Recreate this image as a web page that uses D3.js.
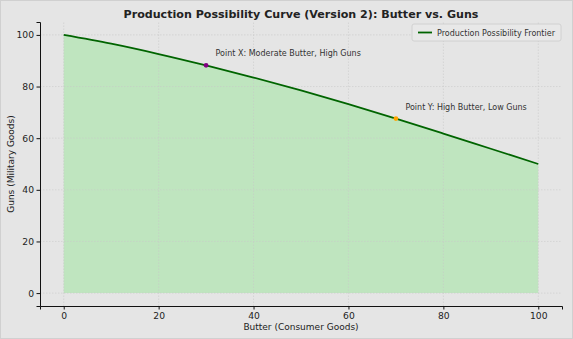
<!DOCTYPE html>
<html>
<head>
<meta charset="utf-8">
<script src="https://cdn.jsdelivr.net/npm/d3@7/dist/d3.min.js"></script>
<style>
  html, body { margin: 0; padding: 0; background: #e5e5e5; }
  svg { display: block; font-family: "DejaVu Sans", sans-serif; }
</style>
</head>
<body>
<svg id="chart" width="573" height="339"></svg>
<script>
// Frontier: butter (x) against guns (y)
const butter = [0, 10, 20, 30, 40, 50, 60, 70, 80, 90, 100];
const guns   = [100, 96.6, 92.6, 88.2, 83.5, 78.5, 73.2, 67.6, 61.8, 55.9, 50];

// Highlighted points on the frontier
const pointNames  = ["Point X: Moderate Butter, High Guns", "Point Y: High Butter, Low Guns"];
const pointButter = [30, 70];
const pointGuns   = [88.2, 67.6];
const pointColors = ["#800080", "#ffa500"];

const xTicks = [0, 20, 40, 60, 80, 100];
const yTicks = [0, 20, 40, 60, 80, 100];

const titleText = "Production Possibility Curve (Version 2): Butter vs. Guns";
const xLabel = "Butter (Consumer Goods)";
const yLabel = "Guns (Military Goods)";
const legendText = "Production Possibility Frontier";

const W = 573, H = 339;
const m = { left: 40, right: 11, top: 22, bottom: 33 };

const svg = d3.select("#chart");
svg.append("rect").attr("x", 0.5).attr("y", 0.5).attr("width", W - 1).attr("height", H - 1)
  .attr("fill", "#e5e5e5").attr("stroke", "#d0d0d0").attr("stroke-width", 1);

const x = d3.scaleLinear().domain([-5, 105]).range([m.left, W - m.right]);
const y = d3.scaleLinear().domain([-5, 105]).range([H - m.bottom, m.top]);

const data = butter.map((b, i) => ({ b, g: guns[i] }));
const curve = d3.curveCatmullRom;

// shaded feasible region
svg.append("path").datum(data)
  .attr("fill", "#bfe5bf")
  .attr("d", d3.area().x(d => x(d.b)).y0(y(0)).y1(d => y(d.g)).curve(curve));

// grid
const grid = svg.append("g").attr("stroke", "#c8c8c8").attr("stroke-width", 0.7)
  .attr("stroke-dasharray", "1.5,1.5").attr("stroke-opacity", 0.8);
grid.selectAll(".gx").data(xTicks).join("line")
  .attr("x1", d => x(d)).attr("x2", d => x(d))
  .attr("y1", y(-5)).attr("y2", y(105));
grid.selectAll(".gy").data(yTicks).join("line")
  .attr("y1", d => y(d)).attr("y2", d => y(d))
  .attr("x1", x(-5)).attr("x2", x(105));

// frontier line
svg.append("path").datum(data)
  .attr("fill", "none").attr("stroke", "#006400").attr("stroke-width", 1.8)
  .attr("d", d3.line().x(d => x(d.b)).y(d => y(d.g)).curve(curve));

// points + annotations
pointNames.forEach((name, i) => {
  svg.append("circle").attr("cx", x(pointButter[i])).attr("cy", y(pointGuns[i]))
    .attr("r", 2.4).attr("fill", pointColors[i]);
  svg.append("text").attr("x", x(pointButter[i]) + 9.5).attr("y", y(pointGuns[i]) - 9)
    .attr("font-size", 8).attr("fill", "#333").text(name);
});

// axes
const xAxis = svg.append("g").attr("transform", `translate(0,${y(-5)})`)
  .call(d3.axisBottom(x).tickValues(xTicks).tickSize(3.5).tickPadding(2.5));
const yAxis = svg.append("g").attr("transform", `translate(${x(-5)},0)`)
  .call(d3.axisLeft(y).tickValues(yTicks).tickSize(3.5).tickPadding(2.5));
[xAxis, yAxis].forEach(a => {
  a.select(".domain").attr("stroke", "#111").attr("stroke-width", 1);
  a.selectAll(".tick line").attr("stroke", "#111");
  a.selectAll(".tick text").attr("font-size", 9.2).attr("fill", "#222")
    .attr("font-family", "DejaVu Sans, sans-serif");
});

// titles
svg.append("text").attr("x", (x(-5) + x(105)) / 2).attr("y", 17.5)
  .attr("text-anchor", "middle").attr("font-weight", "bold").attr("font-size", 11.1)
  .attr("fill", "#222").text(titleText);
svg.append("text").attr("x", (x(-5) + x(105)) / 2).attr("y", 330)
  .attr("text-anchor", "middle").attr("font-size", 9).attr("fill", "#222").text(xLabel);
svg.append("text").attr("transform", `translate(14,${(y(-5) + y(105)) / 2}) rotate(-90)`)
  .attr("text-anchor", "middle").attr("font-size", 9).attr("fill", "#222").text(yLabel);

// legend
const lg = svg.append("g").attr("transform", "translate(412,24)");
lg.append("rect").attr("width", 149).attr("height", 17).attr("rx", 2)
  .attr("fill", "#e8e8e8").attr("stroke", "#cccccc").attr("stroke-width", 0.8);
lg.append("line").attr("x1", 6).attr("x2", 20).attr("y1", 8.5).attr("y2", 8.5)
  .attr("stroke", "#006400").attr("stroke-width", 1.8);
lg.append("text").attr("x", 25).attr("y", 11.5).attr("font-size", 8)
  .attr("fill", "#333").text(legendText);
</script>
</body>
</html>
